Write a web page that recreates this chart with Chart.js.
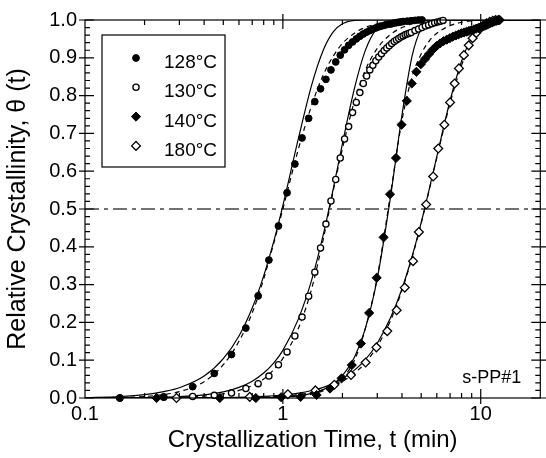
<!DOCTYPE html>
<html>
<head>
<meta charset="utf-8">
<script src="https://cdn.jsdelivr.net/npm/chart.js@4.4.0/dist/chart.umd.min.js"></script>
<style>
html,body{margin:0;padding:0;background:#fff;}
</style>
</head>
<body>
<canvas id="chart" width="546" height="458"></canvas>
<script>
// measured points, t in min, theta = relative crystallinity
var t128 = [0.15,0.25,0.35,0.45,0.55,0.65,0.75,0.85,0.95,1.05,1.15,1.25,1.35,1.45,1.55,1.65,1.75,1.85,1.95,2.05,
            2.15,2.25,2.35,2.45,2.55,2.65,2.75,2.85,2.95,3.05,3.15,3.25,3.35,3.45,3.55,3.65,3.75,3.85,3.95,4.05,
            4.25,4.45,4.65,4.85,5.05];
var th128 = [0,0.003,0.03,0.065,0.115,0.185,0.27,0.365,0.455,0.543,0.619,0.688,0.74,0.784,0.818,0.843,0.868,0.889,0.907,0.921,
             0.933,0.942,0.95,0.957,0.963,0.968,0.972,0.976,0.979,0.982,0.984,0.986,0.988,0.989,0.99,0.992,0.993,0.994,0.995,0.996,
             0.997,0.998,0.999,1.0,1.0];

var t130 = [0.15,0.25,0.35,0.45,0.55,0.65,0.75,0.85,0.95,1.05,1.15,1.25,1.35,1.45,1.55,1.65,1.75,1.85,1.95,2.05,
            2.15,2.25,2.35,2.45,2.55,2.65,2.75,2.85,2.95,3.05,3.15,3.25,3.35,3.45,3.55,3.65,3.75,3.85,3.95,4.05,
            4.15,4.25,4.35,4.45,4.65,4.85,5.05,5.25,5.45,5.65,5.85,6.05,6.25,6.45];
var th130 = [0,0.002,0.004,0.007,0.013,0.025,0.038,0.058,0.088,0.122,0.164,0.214,0.269,0.333,0.397,0.46,0.521,0.578,0.635,0.685,
             0.718,0.755,0.782,0.808,0.832,0.852,0.868,0.88,0.892,0.902,0.911,0.919,0.926,0.932,0.938,0.943,0.947,0.951,0.955,0.958,
             0.961,0.963,0.965,0.967,0.972,0.976,0.98,0.984,0.987,0.99,0.993,0.995,0.997,0.999];

var t140 = [0.23,0.48,0.73,0.98,1.23,1.48,1.73,1.98,2.23,2.48,2.73,2.98,3.23,3.48,3.73,3.98,4.23,4.48,4.73,4.98,
            5.23,5.48,5.73,5.98,6.23,6.48,6.73,6.98,7.23,7.48,7.73,7.98,8.23,8.48,8.73,8.98,9.23,9.48,9.73,9.98,
            10.23,10.48,10.73,10.98,11.23,11.48,11.73,11.98,12.23,12.48];
var th140 = [0,0,0,0.002,0.003,0.008,0.025,0.052,0.087,0.144,0.225,0.318,0.425,0.539,0.635,0.723,0.786,0.832,0.863,0.883,
             0.897,0.91,0.922,0.931,0.938,0.944,0.948,0.952,0.956,0.959,0.962,0.965,0.967,0.969,0.971,0.973,0.975,0.977,0.979,0.981,
             0.983,0.985,0.987,0.99,0.992,0.994,0.996,0.998,0.999,1.0];

var t180 = [0.29,0.68,1.06,1.46,1.82,2.21,2.62,2.97,3.37,3.76,4.13,4.55,4.87,5.3,5.75,6.1,6.55,7.0,7.38,7.76,
            8.22,8.7,9.1,9.5,9.9,10.3,10.7,11.1,11.5,11.9,12.3];
var th180 = [0,0.003,0.01,0.02,0.035,0.061,0.094,0.134,0.177,0.232,0.292,0.362,0.439,0.512,0.586,0.66,0.723,0.782,0.832,0.872,
             0.907,0.933,0.952,0.966,0.977,0.985,0.991,0.995,0.998,1.0,1.0];

// fitted curves (solid and dashed), read on one time grid
var tFit = [0.1,0.15,0.2,0.25,0.3,0.4,0.5,0.6,0.7,0.8,0.9,1.0,1.2,1.4,1.6,1.8,2.0,2.3,2.6,3.0,
            3.5,4.0,4.5,5.0,5.5,6.0,7.0,8.0,9.0,10,11,12,13,15,20];
var solid128 = [0.001,0.004,0.009,0.017,0.027,0.058,0.104,0.164,0.238,0.323,0.415,0.509,0.688,0.829,0.92,0.969,0.99,0.999,1,1,
                1,1,1,1,1,1,1,1,1,1,1,1,1,1,1];
var dash128 = [0,0.001,0.004,0.009,0.017,0.043,0.088,0.15,0.225,0.315,0.41,0.5,0.66,0.775,0.855,0.905,0.938,0.965,0.98,0.99,
               0.996,0.999,1,1,1,1,1,1,1,1,1,1,1,1,1];
var solid130 = [0,0.0004,0.001,0.002,0.0034,0.0082,0.016,0.028,0.0445,0.066,0.093,0.126,0.21,0.313,0.432,0.555,0.673,0.819,0.917,0.979,
                0.998,1,1,1,1,1,1,1,1,1,1,1,1,1,1];
var dash130 = [0,0.0002,0.0005,0.001,0.002,0.005,0.011,0.02,0.033,0.05,0.075,0.105,0.185,0.29,0.42,0.55,0.66,0.785,0.865,0.925,
               0.962,0.98,0.99,0.996,0.999,1,1,1,1,1,1,1,1,1,1];
var solid140 = [0,0,0,0,0,0,0.0001,0.0003,0.0006,0.0012,0.0018,0.0027,0.0061,0.0122,0.0222,0.0374,0.0593,0.108,0.181,0.316,
                0.532,0.749,0.905,0.977,0.997,1,1,1,1,1,1,1,1,1,1];
var dash140 = [0,0,0,0,0,0,0,0.0002,0.0004,0.0008,0.0013,0.002,0.005,0.01,0.019,0.032,0.052,0.1,0.18,0.32,
               0.54,0.735,0.85,0.91,0.945,0.965,0.985,0.994,0.998,1,1,1,1,1,1];
var solid180 = [0,0.0001,0.0001,0.0002,0.0003,0.0007,0.0012,0.002,0.0031,0.0044,0.006,0.008,0.013,0.0198,0.028,0.0387,0.051,0.0737,0.1,0.145,
                0.212,0.289,0.375,0.464,0.554,0.639,0.787,0.891,0.953,0.983,0.995,0.9985,1,1,1];
var dash180 = [0,0,0,0,0,0.0002,0.0005,0.001,0.0015,0.0025,0.0035,0.005,0.009,0.015,0.022,0.032,0.044,0.066,0.092,0.137,
               0.205,0.285,0.372,0.462,0.552,0.636,0.78,0.88,0.945,0.978,0.993,0.999,1,1,1];

var halfT = [0.1, 20];
var halfY = [0.5, 0.5];

var seriesNames = ['128°C', '130°C', '140°C', '180°C'];
var xLabels = [0.1, 1, 10];
var xMajor = [1, 10];
var xMinor = [0.2,0.3,0.4,0.5,0.6,0.7,0.8,0.9,2,3,4,5,6,7,8,9];
var sampleLabel = 's-PP#1';

var FONT = '"Liberation Sans", Arial, Helvetica, sans-serif';
Chart.defaults.font.family = FONT;
Chart.defaults.color = '#000';

function pts(xs, ys){
    var out = [];
    for(var i=0; i<xs.length; i++) out.push({x: xs[i], y: ys[i]});
    return out;
}

function fitLine(vals, dashed){
    return {
        data: pts(tFit, vals), showLine: true, pointRadius: 0, borderColor: '#000',
        borderWidth: 1.2, borderDash: dashed ? [5,4] : [], cubicInterpolationMode: 'monotone',
        fill: false, order: 2
    };
}

var markerSets = [
    {data: pts(t128, th128), pointStyle: 'circle', pointRadius: 3.4, backgroundColor: '#000', borderColor: '#000', borderWidth: 1},
    {data: pts(t130, th130), pointStyle: 'circle', pointRadius: 3.1, backgroundColor: '#fff', borderColor: '#000', borderWidth: 1.3},
    {data: pts(t140, th140), pointStyle: 'rectRot', pointRadius: 4.6, backgroundColor: '#000', borderColor: '#000', borderWidth: 1},
    {data: pts(t180, th180), pointStyle: 'rectRot', pointRadius: 4.4, backgroundColor: '#fff', borderColor: '#000', borderWidth: 1.3}
];
markerSets.forEach(function(d, i){
    d.label = seriesNames[i];
    d.showLine = false;
    d.clip = false;
    d.order = 0;
});

var yMajor = [0.1,0.2,0.3,0.4,0.5,0.6,0.7,0.8,0.9];
var yMinor = [];
for(var k=1; k<50; k++){ if(k % 5 !== 0) yMinor.push(k/50); }

var frameAndLegend = {
    id: 'frameAndLegend',
    afterDatasetsDraw: function(chart){
        var ctx = chart.ctx, a = chart.chartArea;
        var xs = chart.scales.x, ys = chart.scales.y;
        ctx.save();
        ctx.strokeStyle = '#000';
        ctx.lineWidth = 1.2;
        ctx.strokeRect(a.left, a.top, a.right - a.left, a.bottom - a.top);

        ctx.beginPath();
        xMinor.forEach(function(v){
            var p = xs.getPixelForValue(v);
            ctx.moveTo(p, a.bottom); ctx.lineTo(p, a.bottom - 5);
            ctx.moveTo(p, a.top); ctx.lineTo(p, a.top + 5);
        });
        xMajor.forEach(function(v){
            var p = xs.getPixelForValue(v);
            ctx.moveTo(p, a.bottom + 6); ctx.lineTo(p, a.bottom - 9);
            ctx.moveTo(p, a.top - 6); ctx.lineTo(p, a.top + 9);
        });
        yMinor.forEach(function(v){
            var p = ys.getPixelForValue(v);
            ctx.moveTo(a.left, p); ctx.lineTo(a.left + 5, p);
            ctx.moveTo(a.right, p); ctx.lineTo(a.right - 5, p);
        });
        yMajor.concat([0, 1]).forEach(function(v){
            var p = ys.getPixelForValue(v);
            ctx.moveTo(a.left - 6, p); ctx.lineTo(a.left + 9, p);
            ctx.moveTo(a.right + 6, p); ctx.lineTo(a.right - 9, p);
        });
        ctx.stroke();

        ctx.fillStyle = '#000';
        ctx.font = '18px ' + FONT;
        ctx.textAlign = 'right';
        ctx.textBaseline = 'alphabetic';
        ctx.fillText(sampleLabel, a.right - 19, a.bottom - 15);

        // legend box
        var bx = a.left + 17, by = a.top + 15, bw = 123, bh = 132;
        ctx.lineWidth = 1.2;
        ctx.strokeRect(bx, by, bw, bh);
        ctx.textAlign = 'left';
        ctx.font = '19px ' + FONT;
        for(var i=0; i<markerSets.length; i++){
            var d = markerSets[i];
            var my = by + 23 + i * 29.3;
            ctx.fillStyle = d.backgroundColor;
            ctx.strokeStyle = d.borderColor;
            ctx.lineWidth = d.borderWidth;
            Chart.helpers.drawPoint(ctx, {pointStyle: d.pointStyle, radius: d.pointRadius, borderWidth: d.borderWidth, rotation: 0}, bx + 34, my);
            ctx.fillStyle = '#000';
            ctx.fillText(d.label, bx + 62, my + 10);
        }
        ctx.restore();
    }
};

var datasets = markerSets.concat([
    fitLine(solid128, false), fitLine(dash128, true),
    fitLine(solid130, false), fitLine(dash130, true),
    fitLine(solid140, false), fitLine(dash140, true),
    fitLine(solid180, false), fitLine(dash180, true),
    {data: pts(halfT, halfY), showLine: true, pointRadius: 0, borderColor: '#444', borderWidth: 1.5,
     borderDash: [14,5,4,5], fill: false, order: 3}
]);

new Chart(document.getElementById('chart').getContext('2d'), {
    type: 'scatter',
    data: {datasets: datasets},
    options: {
        responsive: false,
        animation: false,
        events: [],
        layout: {padding: {top: 18, right: 5, bottom: 0, left: 0}},
        plugins: {legend: {display: false}, tooltip: {enabled: false}},
        scales: {
            x: {
                type: 'logarithmic', min: 0.1, max: 20, position: 'bottom',
                grid: {display: false, drawTicks: false},
                border: {display: false},
                ticks: {
                    autoSkip: false, maxRotation: 0, padding: 4, font: {size: 20}, color: '#000',
                    callback: function(v){
                        for(var i=0; i<xLabels.length; i++){
                            if(Math.abs(v - xLabels[i]) < xLabels[i] * 1e-6) return String(xLabels[i]);
                        }
                        return '';
                    }
                },
                title: {display: true, text: 'Crystallization Time, t (min)', font: {size: 24}, color: '#000', padding: {top: 0, bottom: 3}},
                afterFit: function(s){ s.height = 60; }
            },
            y: {
                min: 0, max: 1,
                grid: {display: false, drawTicks: false},
                border: {display: false},
                ticks: {stepSize: 0.1, padding: 8, font: {size: 20}, color: '#000',
                    callback: function(v){ return v.toFixed(1); }},
                title: {display: true, text: 'Relative Crystallinity, θ (t)', font: {size: 25}, color: '#000', padding: {top: 3, bottom: 0}},
                afterFit: function(s){ s.width = 85; }
            }
        }
    },
    plugins: [frameAndLegend]
});
</script>
</body>
</html>
